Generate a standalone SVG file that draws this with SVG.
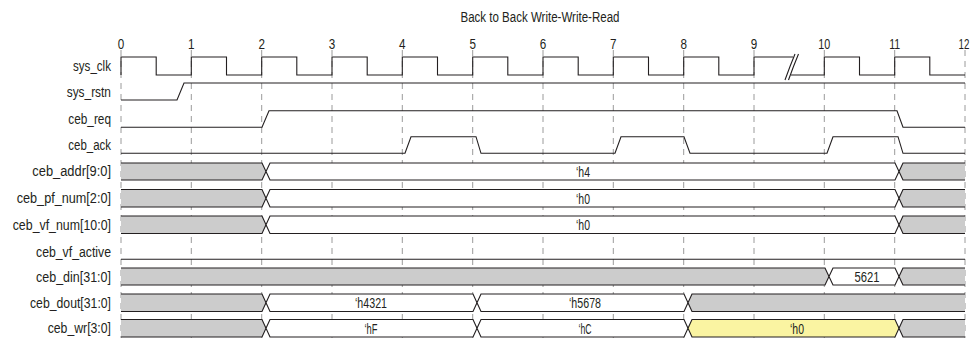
<svg xmlns="http://www.w3.org/2000/svg" width="971" height="339" viewBox="0 0 971 339">
<style>
text{font-family:"Liberation Sans",Arial,sans-serif;font-size:14px;fill:#231f20}
.lbl{text-anchor:end}
.c{text-anchor:middle}
.w{fill:none;stroke:#231f20;stroke-width:1.1}
.g{fill:#cccccc;stroke:#231f20;stroke-width:1.1}
.v{fill:#ffffff;stroke:#231f20;stroke-width:1.1}
.y{fill:#faf4a2;stroke:#231f20;stroke-width:1.1}
.grid line{stroke:#9a9a9a;stroke-width:1;stroke-dasharray:6 5}
</style>
<rect width="971" height="339" fill="#ffffff"/>
<text class="c" x="540" y="22" textLength="159" lengthAdjust="spacingAndGlyphs">Back to Back Write-Write-Read</text>
<g id="ticks">
<text class="c" x="121" y="49" textLength="6.5" lengthAdjust="spacingAndGlyphs">0</text><text class="c" x="191.3" y="49" textLength="6.5" lengthAdjust="spacingAndGlyphs">1</text><text class="c" x="261.7" y="49" textLength="6.5" lengthAdjust="spacingAndGlyphs">2</text><text class="c" x="332" y="49" textLength="6.5" lengthAdjust="spacingAndGlyphs">3</text><text class="c" x="402.3" y="49" textLength="6.5" lengthAdjust="spacingAndGlyphs">4</text><text class="c" x="472.7" y="49" textLength="6.5" lengthAdjust="spacingAndGlyphs">5</text><text class="c" x="543" y="49" textLength="6.5" lengthAdjust="spacingAndGlyphs">6</text><text class="c" x="613.3" y="49" textLength="6.5" lengthAdjust="spacingAndGlyphs">7</text><text class="c" x="683.7" y="49" textLength="6.5" lengthAdjust="spacingAndGlyphs">8</text><text class="c" x="754" y="49" textLength="6.5" lengthAdjust="spacingAndGlyphs">9</text><text class="c" x="824.3" y="49" textLength="12" lengthAdjust="spacingAndGlyphs">10</text><text class="c" x="894.7" y="49" textLength="11" lengthAdjust="spacingAndGlyphs">11</text><text class="c" transform="translate(964,49) scale(0.7,1)" x="0" y="0">12</text>
</g>
<g id="grid" class="grid">
<line x1="121" y1="50" x2="121" y2="338"/><line x1="191.3" y1="50" x2="191.3" y2="338"/><line x1="261.7" y1="50" x2="261.7" y2="338"/><line x1="332" y1="50" x2="332" y2="338"/><line x1="402.3" y1="50" x2="402.3" y2="338"/><line x1="472.7" y1="50" x2="472.7" y2="338"/><line x1="543" y1="50" x2="543" y2="338"/><line x1="613.3" y1="50" x2="613.3" y2="338"/><line x1="683.7" y1="50" x2="683.7" y2="338"/><line x1="754" y1="50" x2="754" y2="338"/><line x1="824.3" y1="50" x2="824.3" y2="338"/><line x1="894.7" y1="50" x2="894.7" y2="338"/><line x1="965" y1="50" x2="965" y2="338"/>
</g>
<g id="sys_clk">
<text class="lbl" x="111" y="71" textLength="38" lengthAdjust="spacingAndGlyphs">sys_clk</text>
<path class="w" d="M121,75 V57 H156.2 V75 H191.3 V57 H226.5 V75 H261.7 V57 H296.8 V75 H332 V57 H367.2 V75 H402.3 V57 H437.5 V75 H472.7 V57 H507.8 V75 H543 V57 H578.2 V75 H613.3 V57 H648.5 V75 H683.7 V57 H718.8 V75 H754 V57 H793"/>
<path class="w" d="M791,75 H824.3 V57 H859.5 V75 H894.7 V57 H929.8 V75 H965"/>
<path class="w" d="M795,54 Q790,66 785,80 M798.5,54 Q793.5,66 788.5,80"/>
</g>
<g id="sys_rstn">
<text class="lbl" x="111" y="97" textLength="44.3" lengthAdjust="spacingAndGlyphs">sys_rstn</text>
<path class="w" d="M121,100 H177 L184,83 H965"/>
</g>
<g id="ceb_req">
<text class="lbl" x="111" y="124" textLength="42.7" lengthAdjust="spacingAndGlyphs">ceb_req</text>
<path class="w" d="M121,127.3 H262 L269,110.7 H897 L903,127.3 H965"/>
</g>
<g id="ceb_ack">
<text class="lbl" x="111" y="150" textLength="42.7" lengthAdjust="spacingAndGlyphs">ceb_ack</text>
<path class="w" d="M121,153.3 H405 L411,136.7 H476 L481,153.3 H615 L621,136.7 H684 L690,153.3 H827 L833,136.7 H898 L903,153.3 H965"/>
</g>
<g id="ceb_addr">
<text class="lbl" x="111" y="176" textLength="78.7" lengthAdjust="spacingAndGlyphs">ceb_addr[9:0]</text>
<path class="g" d="M121,163 H262 L266,171.5 L262,180 H121"/>
<path class="v" d="M266,171.5 L270,163 H895 L899,171.5 L895,180 H270 Z"/>
<path class="g" d="M965,163 H903 L899,171.5 L903,180 H965"/>
<text class="c" x="583" y="176.5" textLength="14" lengthAdjust="spacingAndGlyphs">‘h4</text>
</g>
<g id="ceb_pf_num">
<text class="lbl" x="111" y="203" textLength="94.3" lengthAdjust="spacingAndGlyphs">ceb_pf_num[2:0]</text>
<path class="g" d="M121,189.5 H262 L266,198.25 L262,207 H121"/>
<path class="v" d="M266,198.25 L270,189.5 H895 L899,198.25 L895,207 H270 Z"/>
<path class="g" d="M965,189.5 H903 L899,198.25 L903,207 H965"/>
<text class="c" x="583" y="203.5" textLength="14" lengthAdjust="spacingAndGlyphs">‘h0</text>
</g>
<g id="ceb_vf_num">
<text class="lbl" x="111" y="229.5" textLength="98.3" lengthAdjust="spacingAndGlyphs">ceb_vf_num[10:0]</text>
<path class="g" d="M121,216 H262 L266,224.75 L262,233.5 H121"/>
<path class="v" d="M266,224.75 L270,216 H895 L899,224.75 L895,233.5 H270 Z"/>
<path class="g" d="M965,216 H903 L899,224.75 L903,233.5 H965"/>
<text class="c" x="583" y="230" textLength="14" lengthAdjust="spacingAndGlyphs">‘h0</text>
</g>
<g id="ceb_vf_active">
<text class="lbl" x="111" y="257" textLength="75" lengthAdjust="spacingAndGlyphs">ceb_vf_active</text>
<path class="w" d="M121,259.3 H965"/>
</g>
<g id="ceb_din">
<text class="lbl" x="111" y="281.5" textLength="75" lengthAdjust="spacingAndGlyphs">ceb_din[31:0]</text>
<path class="g" d="M121,268 H825 L829,276.5 L825,285 H121"/>
<path class="v" d="M829,276.5 L833,268 H895 L899,276.5 L895,285 H833 Z"/>
<path class="g" d="M965,268 H903 L899,276.5 L903,285 H965"/>
<text class="c" x="867" y="282" textLength="25" lengthAdjust="spacingAndGlyphs">5621</text>
</g>
<g id="ceb_dout">
<text class="lbl" x="111" y="308" textLength="81" lengthAdjust="spacingAndGlyphs">ceb_dout[31:0]</text>
<path class="g" d="M121,294 H262 L266,302.75 L262,311.5 H121"/>
<path class="v" d="M266,302.75 L270,294 H473 L477,302.75 L473,311.5 H270 Z"/>
<path class="v" d="M477,302.75 L481,294 H684 L688,302.75 L684,311.5 H481 Z"/>
<path class="g" d="M965,294 H692 L688,302.75 L692,311.5 H965"/>
<text class="c" x="371" y="308" textLength="32" lengthAdjust="spacingAndGlyphs">‘h4321</text>
<text class="c" x="585" y="308" textLength="32" lengthAdjust="spacingAndGlyphs">‘h5678</text>
</g>
<g id="ceb_wr">
<text class="lbl" x="111" y="333" textLength="63.3" lengthAdjust="spacingAndGlyphs">ceb_wr[3:0]</text>
<path class="g" d="M121,319.5 H262 L266,328.25 L262,337 H121"/>
<path class="v" d="M266,328.25 L270,319.5 H473 L477,328.25 L473,337 H270 Z"/>
<path class="v" d="M477,328.25 L481,319.5 H684 L688,328.25 L684,337 H481 Z"/>
<path class="y" d="M688,328.25 L692,319.5 H895 L899,328.25 L895,337 H692 Z"/>
<path class="g" d="M965,319.5 H903 L899,328.25 L903,337 H965"/>
<text class="c" x="371" y="333.5" textLength="13" lengthAdjust="spacingAndGlyphs">‘hF</text>
<text class="c" x="585" y="333.5" textLength="13" lengthAdjust="spacingAndGlyphs">‘hC</text>
<text class="c" x="797" y="333.5" textLength="14" lengthAdjust="spacingAndGlyphs">‘h0</text>
</g>
</svg>
